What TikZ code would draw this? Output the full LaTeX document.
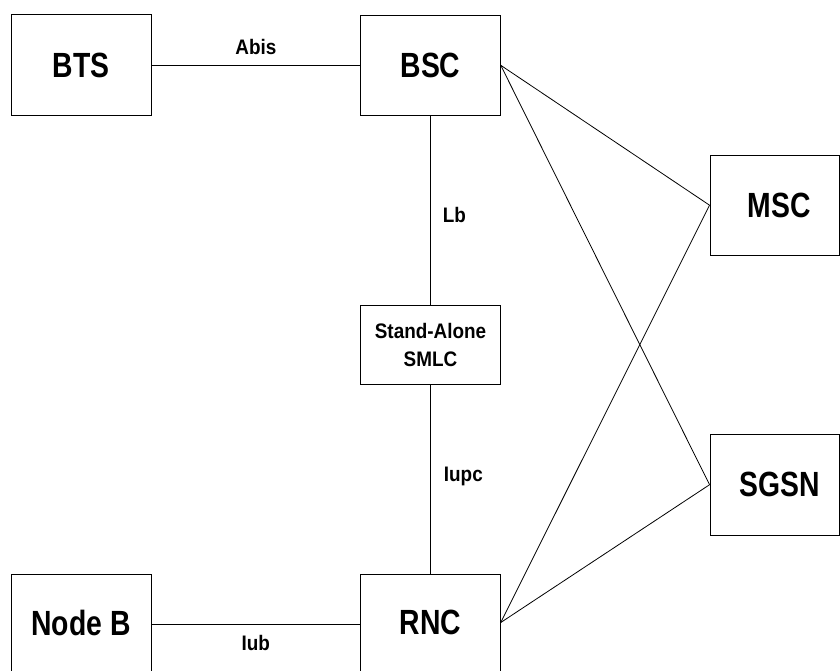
\documentclass[tikz,border=0pt]{standalone}
\usepackage{fontspec}
\newfontfamily\bigfnt{Liberation Sans}[FakeStretch=0.81]
\newfontfamily\smlfnt{Liberation Sans}[FakeStretch=0.9]
\begin{document}
\begin{tikzpicture}[x=1pt,y=-1pt,
  box/.style={draw=black, line width=0.9pt, inner sep=0pt, align=center},
  bigbox/.style={box, font=\bigfnt\bfseries\fontsize{35}{40}\selectfont},
  smlbox/.style={box, font=\smlfnt\bfseries\fontsize{21}{28}\selectfont},
  lbl/.style={inner sep=0pt, font=\smlfnt\bfseries\fontsize{21}{25}\selectfont},
  link/.style={draw=black, line width=0.8pt}]
\clip (0,0) rectangle (840,670);
\fill[white] (0,0) rectangle (840,670);
\node[bigbox, minimum width=140pt, minimum height=101pt] (bts) at (81,65.2) {BTS};
\node[bigbox, minimum width=139.6pt, minimum height=100.7pt] (bsc) at (430.5,65.3) {BSC};
\node[bigbox, minimum width=129pt, minimum height=100.3pt] (msc) at (774.5,205.2) {\hspace*{9pt}MSC};
\node[bigbox, minimum width=129pt, minimum height=100.7pt] (sgsn) at (774.5,484.7) {\hspace*{10pt}SGSN};
\node[smlbox, minimum width=139.6pt, minimum height=78.3pt] (smlc) at (430.5,345) {Stand-Alone\\SMLC};
\node[bigbox, minimum width=140pt, minimum height=97pt] (nodeb) at (81,622.5) {Node B};
\node[bigbox, minimum width=139.6pt, minimum height=97pt] (rnc) at (430.5,622.5) {RNC};
\draw[link] (bts.east |- 0,65) -- node[lbl, above=10pt] {Abis} (bsc.west |- 0,65);
\draw[link] (nodeb.east |- 0,624.5) -- node[lbl, below=10pt] {Iub} (rnc.west |- 0,624.5);
\draw[link] (bsc.south) -- node[lbl, pos=0.52, anchor=west, xshift=12pt] {Lb} (smlc.north);
\draw[link] (smlc.south) -- node[lbl, pos=0.486, anchor=west, xshift=13pt] {Iupc} (rnc.north);
\draw[link] (bsc.east) -- (msc.west);
\draw[link] (bsc.east) -- (sgsn.west);
\draw[link] (rnc.east) -- (msc.west);
\draw[link] (rnc.east) -- (sgsn.west);
\end{tikzpicture}
\end{document}
